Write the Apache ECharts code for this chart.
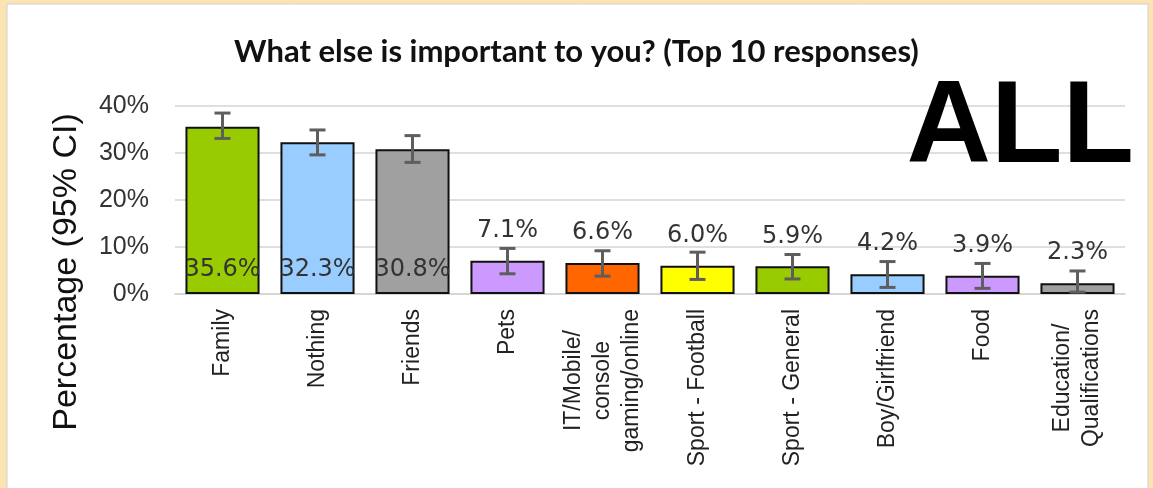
<!DOCTYPE html>
<html>
<head>
<meta charset="utf-8">
<script src="https://cdn.jsdelivr.net/npm/echarts@6/dist/echarts.min.js"></script>
<style>
html,body{margin:0;padding:0;background:#FBE3B2;}
#chart{width:1153px;height:488px;}
</style>
</head>
<body>
<div id="chart"></div>
<script>
const categories = ["Family", "Nothing", "Friends", "Pets", "IT/Mobile/\nconsole\ngaming/online", "Sport - Football", "Sport - General", "Boy/Girlfriend", "Food", "Education/\nQualifications"];
const values = [35.6, 32.3, 30.8, 7.1, 6.6, 6.0, 5.9, 4.2, 3.9, 2.3];
const ciLow = [33.1, 29.6, 28.0, 4.3, 3.8, 3.1, 3.2, 1.4, 1.2, 0.4];
const ciHigh = [38.5, 34.9, 33.7, 9.7, 9.2, 8.9, 8.4, 6.9, 6.5, 4.9];
const barColors = ["#99CC00", "#99CCFF", "#A0A0A0", "#CC99FF", "#FF6600", "#FFFF00", "#99CC00", "#99CCFF", "#CC99FF", "#A0A0A0"];
const yTicks = [0, 10, 20, 30, 40];
const titleText = "What else is important to you? (Top 10 responses)";
const yAxisTitle = "Percentage (95% CI)";
const badge = "ALL";

const chart = echarts.init(document.getElementById('chart'), null, {renderer: 'canvas'});

const barData = values.map((v, i) => ({
  value: v,
  itemStyle: {color: barColors[i]},
  label: i < 3 ? {position: 'insideBottom', distance: 12} : {position: 'top', distance: 18}
}));

const errData = values.map((v, i) => [i, ciLow[i], ciHigh[i]]);

const option = {
  backgroundColor: '#FBE3B2',
  animation: false,
  title: {
    text: titleText,
    left: 'center',
    top: 31,
    textStyle: {fontFamily: 'Lato', fontWeight: 'bold', fontSize: 31, color: '#111'}
  },
  graphic: [
    {type: 'rect', z: -100, shape: {x: 7, y: 4, width: 1141, height: 500}, style: {fill: '#ffffff', stroke: '#d0d0d0', lineWidth: 1}},
    {type: 'text', z: 100, style: {text: badge, x: 1134, y: 130, align: 'right', verticalAlign: 'middle', font: 'bold 117px "Liberation Sans", Arial', fill: '#000'}},
    {type: 'text', z: 100, rotation: Math.PI / 2, x: 67, y: 272, style: {text: yAxisTitle, x: 0, y: 0, align: 'center', verticalAlign: 'middle', font: '34px "Liberation Sans", Arial', fill: '#111'}}
  ],
  grid: {left: 175, right: 28, top: 106, bottom: 194, containLabel: false},
  xAxis: {
    type: 'category',
    data: categories,
    axisLine: {show: true, lineStyle: {color: '#d4d4d4', width: 1.5}},
    axisTick: {show: false},
    axisLabel: {
      rotate: 90,
      interval: 0,
      margin: 15,
      formatter: function (val) {
        return val.split('\n').map(l => '{c|' + l + '}').join('\n');
      },
      rich: {c: {align: 'center', fontFamily: '"Liberation Sans", Arial', fontSize: 23, lineHeight: 29, color: '#222'}}
    }
  },
  yAxis: {
    type: 'value',
    min: 0,
    max: 40,
    interval: 10,
    axisLine: {show: false},
    axisTick: {show: false},
    splitLine: {lineStyle: {color: '#d4d4d4', width: 1.5}},
    axisLabel: {
      formatter: function (v) { return yTicks.indexOf(v) >= 0 ? v + '%' : ''; },
      fontFamily: '"Liberation Sans", Arial',
      fontSize: 25,
      color: '#333',
      margin: 26
    }
  },
  series: [
    {
      type: 'bar',
      data: barData,
      barCategoryGap: '22%',
      itemStyle: {borderColor: '#111', borderWidth: 2},
      label: {
        show: true,
        formatter: function (p) { return p.value.toFixed(1) + '%'; },
        fontFamily: '"DejaVu Sans", Verdana',
        fontSize: 24,
        color: '#333'
      },
      z: 2
    },
    {
      type: 'custom',
      data: errData,
      z: 5,
      renderItem: function (params, api) {
        const x = api.value(0);
        const lo = api.coord([x, api.value(1)]);
        const hi = api.coord([x, api.value(2)]);
        const hw = 8;
        const st = {stroke: '#5e5e5e', lineWidth: 3};
        return {
          type: 'group',
          children: [
            {type: 'line', shape: {x1: lo[0], y1: lo[1], x2: hi[0], y2: hi[1]}, style: st},
            {type: 'line', shape: {x1: lo[0] - hw, y1: lo[1], x2: lo[0] + hw, y2: lo[1]}, style: st},
            {type: 'line', shape: {x1: hi[0] - hw, y1: hi[1], x2: hi[0] + hw, y2: hi[1]}, style: st}
          ]
        };
      }
    }
  ]
};
chart.setOption(option);
</script>
</body>
</html>
